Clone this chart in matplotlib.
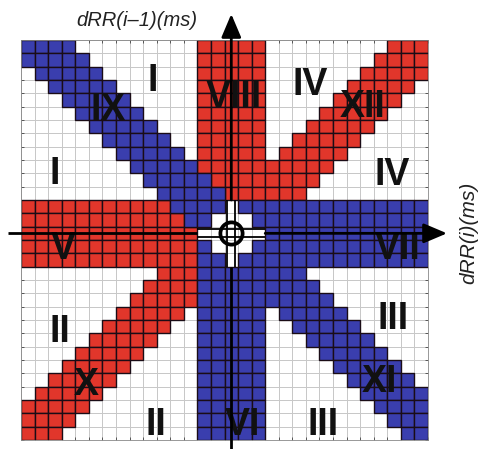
import numpy as np
import matplotlib
matplotlib.use("Agg")
import matplotlib.pyplot as plt
from matplotlib.colors import ListedColormap
from matplotlib.patches import ArrowStyle

# ---- lattice of RR-interval difference cells ----
n_cells = 30
center_col = 15
center_row = 14
band_half = 2

# diagonal bands: cell column of the band centre for a given row
blue_diag_offset = 1      # c = r + 1   (IX / XI)
red_anti_sum = 29         # c = 29 - r  (XII / X)

# straight bands: (first, last) inclusive cell indices
red_top_cols, red_top_rows = (13, 17), (0, 16)        # VIII
red_left_rows, red_left_cols = (12, 16), (0, 17)      # V
blue_bottom_cols, blue_bottom_rows = (13, 17), (12, 29)  # VI
blue_right_rows, blue_right_cols = (12, 16), (13, 29)    # VII

# zone names and where they sit (cell units)
zone_names = ["I", "IX", "I", "VIII", "IV", "XII", "IV", "V", "VII",
              "II", "X", "II", "VI", "III", "XI", "III"]
zone_x = [9.73, 6.40, 2.50, 15.70, 21.30, 25.15, 27.35, 3.10, 27.75,
          2.85, 4.80, 9.95, 16.35, 27.42, 26.40, 22.25]
zone_y = [3.10, 5.25, 10.05, 4.30, 3.40, 5.05, 10.15, 15.65, 15.65,
          21.90, 25.90, 28.85, 28.85, 20.95, 25.65, 28.85]

x_label = "dRR(i\u20131)(ms)"
y_label = "dRR(i)(ms)"

RED = "#e1362b"
BLUE = "#3a3eae"

# ---- build the cell codes: 0 white, 1 red, 2 blue ----
cc, rr = np.meshgrid(np.arange(n_cells), np.arange(n_cells))
code = np.zeros((n_cells, n_cells), dtype=int)


def inside(v, lim):
    return (v >= lim[0]) & (v <= lim[1])


red = (np.abs(cc - (red_anti_sum - rr)) <= band_half)
red |= inside(cc, red_top_cols) & inside(rr, red_top_rows)
red |= inside(rr, red_left_rows) & inside(cc, red_left_cols)
blue = (np.abs(cc - (rr + blue_diag_offset)) <= band_half)
blue |= inside(cc, blue_bottom_cols) & inside(rr, blue_bottom_rows)
blue |= inside(rr, blue_right_rows) & inside(cc, blue_right_cols)
code[red] = 1
code[blue] = 2

# open cross around the origin
dc = np.abs(cc - center_col)
dr = np.abs(rr - center_row)
white = ((dc <= 1) & (dr <= 1)) | ((dc == 0) & (dr <= 2)) | ((dr == 0) & (dc <= 2))
code[white] = 0

# ---- figure ----
W, H = 482, 449
fig = plt.figure(figsize=(W / 100, H / 100), dpi=100)
ax = fig.add_axes([21 / W, 1 - 440 / H, 407 / W, 400 / H])

edges = np.arange(n_cells + 1)
# white background lattice with light grid lines
ax.pcolormesh(edges, edges, np.zeros_like(code), cmap=ListedColormap(["white"]),
              edgecolors="#c8c8c8", linewidth=0.7, zorder=1)
# coloured cells with dark borders
for value, colour in ((1, RED), (2, BLUE)):
    sel = code == value
    ax.bar(cc[sel], 1, bottom=rr[sel], width=1, align="edge", color=colour,
           edgecolor="#1a0c16", linewidth=1.0, zorder=2)

ax.set_xlim(0, n_cells)
ax.set_ylim(n_cells, 0)
ax.set_xticks(edges)
ax.set_yticks(edges)
ax.tick_params(direction="in", length=2.5, width=0.6, color="#444444",
               top=True, right=True, labelleft=False, labelbottom=False)
for s in ax.spines.values():
    s.set_color("#888888")
    s.set_linewidth(0.6)

# zone numerals
for name, x, y in zip(zone_names, zone_x, zone_y):
    ax.text(x, y, name, ha="center", va="center", fontsize=27,
            fontweight="bold", family="Liberation Sans", color="#111111",
            zorder=6)

# plot axes drawn as arrows through the origin
ox, oy = center_col + 0.5, center_row + 0.5
inv = ax.transData.inverted()
x_left = inv.transform((8, 0))[0]
x_right = inv.transform((447, 0))[0]
y_bottom = inv.transform((0, 0))[1]
y_top = inv.transform((0, H - 14))[1]

line_kw = dict(color="black", lw=2.0, solid_capstyle="butt", zorder=7, clip_on=False)
arrow = ArrowStyle("-|>", head_length=1.3, head_width=0.55)
arrow_kw = dict(arrowstyle=arrow, color="black", lw=2.0, mutation_scale=11,
                shrinkA=0, shrinkB=0)

# shafts stop at the open cross, where they split into a double track
ax.plot([x_left, center_col - 2], [oy, oy], **line_kw)
ax.annotate("", xy=(x_right, oy), xytext=(center_col + 3, oy),
            arrowprops=arrow_kw, annotation_clip=False, zorder=7)
ax.plot([ox, ox], [y_bottom, center_row + 3], **line_kw)
ax.annotate("", xy=(ox, y_top), xytext=(ox, center_row - 2),
            arrowprops=arrow_kw, annotation_clip=False, zorder=7)

gap = 0.29
thin_kw = dict(color="black", lw=1.3, solid_capstyle="butt", zorder=7)
for s in (-gap, gap):
    ax.plot([center_col - 2, center_col + 3], [oy + s, oy + s], **thin_kw)
    ax.plot([ox + s, ox + s], [center_row - 2, center_row + 3], **thin_kw)

# origin marker
ax.plot([ox], [oy], marker="o", markersize=16, markerfacecolor="none",
        markeredgecolor="black", markeredgewidth=2.7, zorder=8, clip_on=False)

fig.text(137 / W, 1 - 20 / H, x_label, ha="center", va="center",
         fontsize=14.5, style="italic", family="Liberation Sans", color="#222222")
fig.text(469 / W, 1 - 233 / H, y_label, ha="center", va="center", rotation=90,
         fontsize=15, style="italic", family="Liberation Sans", color="#222222")

fig.savefig("out.png", dpi=100)
